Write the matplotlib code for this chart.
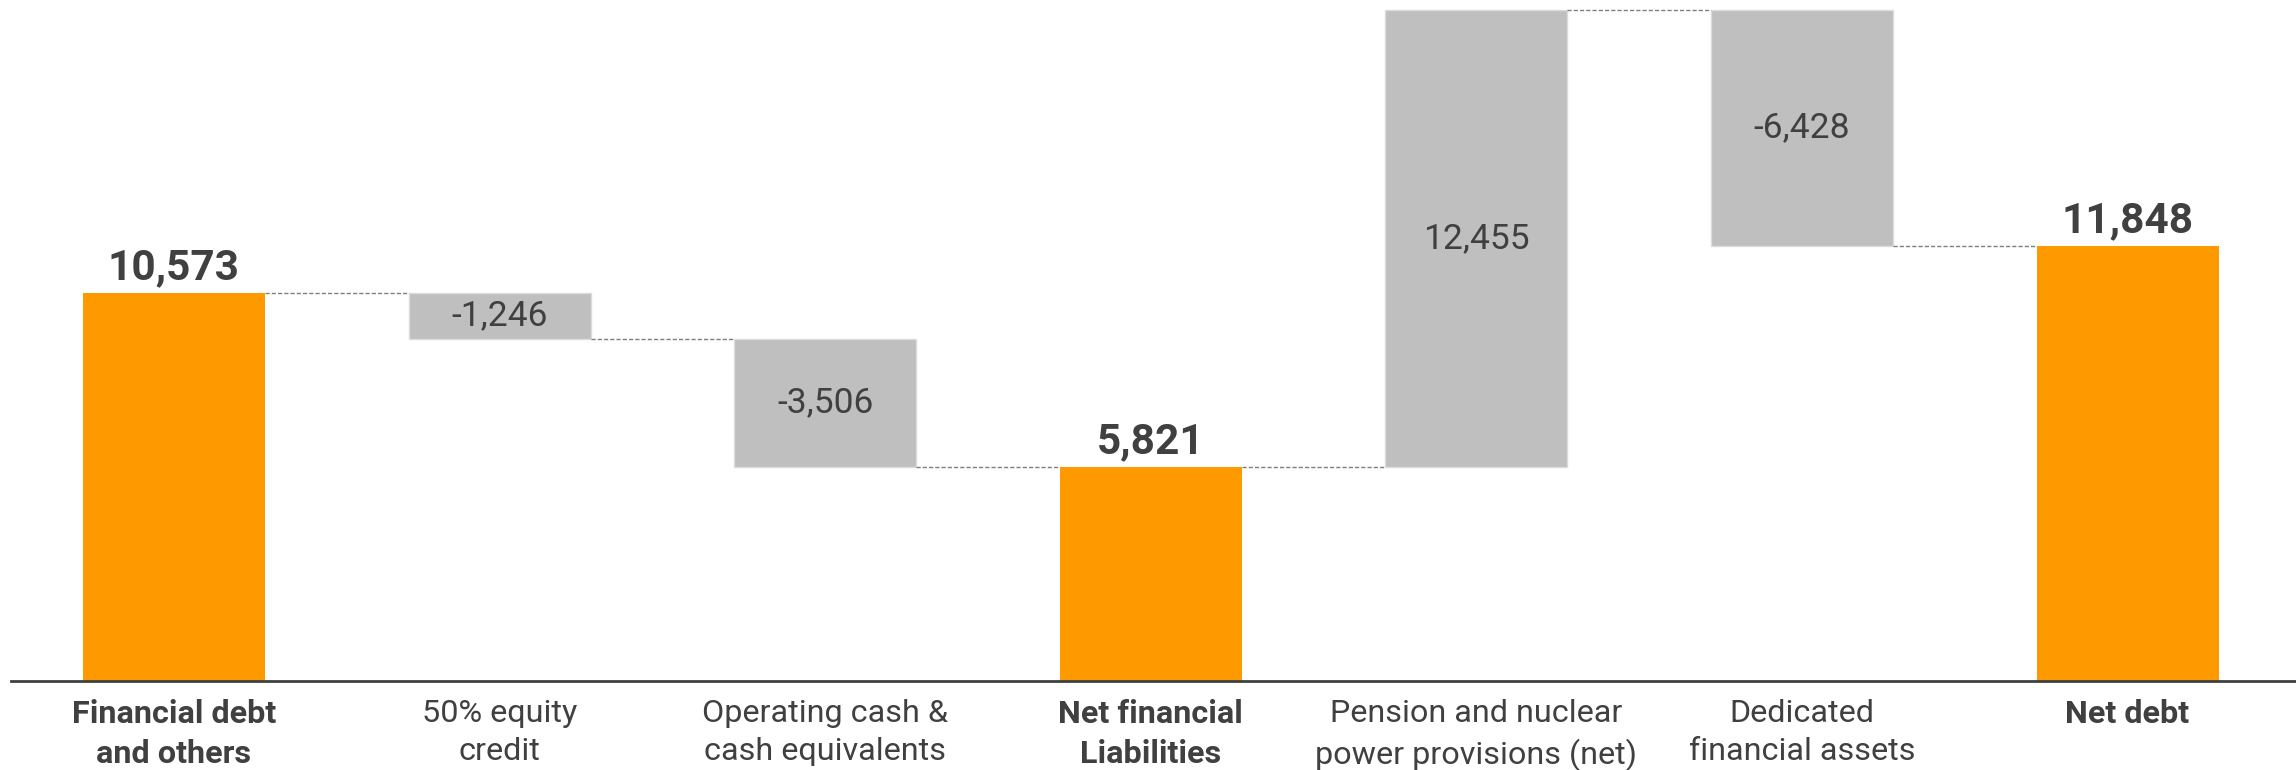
import matplotlib
matplotlib.use('Agg')
import matplotlib.pyplot as plt

# waterfall data
categories = ['Financial debt\nand others', '50% equity\ncredit', 'Operating cash &\ncash equivalents',
              'Net financial\nLiabilities', 'Pension and nuclear\npower provisions (net)',
              'Dedicated\nfinancial assets', 'Net debt']
values = [10573, -1246, -3506, 5821, 12455, -6428, 11848]
is_total = [True, False, False, True, False, False, True]

plt.rcParams['font.family'] = ['Roboto', 'DejaVu Sans']

orange = '#ff9900'
grey = '#bfbfbf'
txt = '#404040'

fig = plt.figure(figsize=(22.96, 7.7), dpi=100)
ax = fig.add_axes([11 / 2296, 89 / 770, 1 - 11 / 2296, 1 - 89 / 770])

bottoms = []
heights = []
levels = []  # level where the connector leaves each bar
running = 0
for v, tot in zip(values, is_total):
    if tot:
        bottoms.append(0)
        heights.append(v)
        running = v
    else:
        bottoms.append(min(running, running + v))
        heights.append(abs(v))
        running = running + v
    levels.append(running)

width = 0.559
x = list(range(len(values)))
for i in x:
    if is_total[i]:
        ax.bar(i, heights[i], bottom=bottoms[i], width=width, color=orange, linewidth=0)
        ax.annotate(f'{values[i]:,}', (i, heights[i]), xytext=(0, 10), textcoords='offset points',
                    ha='center', va='baseline', fontsize=30.5, fontweight='bold', color=txt)
    else:
        ax.bar(i, heights[i], bottom=bottoms[i], width=width, color=grey,
               edgecolor='#dcdcdc', linewidth=1)
        ax.text(i, bottoms[i] + heights[i] / 2, f'{values[i]:,}', ha='center', va='center',
                fontsize=25.5, fontweight='normal', color=txt)

# dashed connectors between bars
for i in range(len(values) - 1):
    y = levels[i]
    ax.plot([i + width / 2, i + 1 - width / 2], [y, y], color='#7f7f7f',
            linestyle=(0, (3, 1.5)), linewidth=1)

ax.set_xlim(-0.5006, 6.5175)
ax.set_ylim(0, 18548)

for s in ['top', 'right', 'left']:
    ax.spines[s].set_visible(False)
ax.spines['bottom'].set_color(txt)
ax.spines['bottom'].set_linewidth(2)
ax.set_yticks([])
ax.set_xticks(x)
ax.set_xticklabels(categories, fontsize=23.3, color=txt, linespacing=1.4)
ax.tick_params(axis='x', length=0, pad=13)
for lab, tot in zip(ax.get_xticklabels(), is_total):
    lab.set_fontweight('bold' if tot else 'normal')

fig.savefig('out.png', dpi=100)
